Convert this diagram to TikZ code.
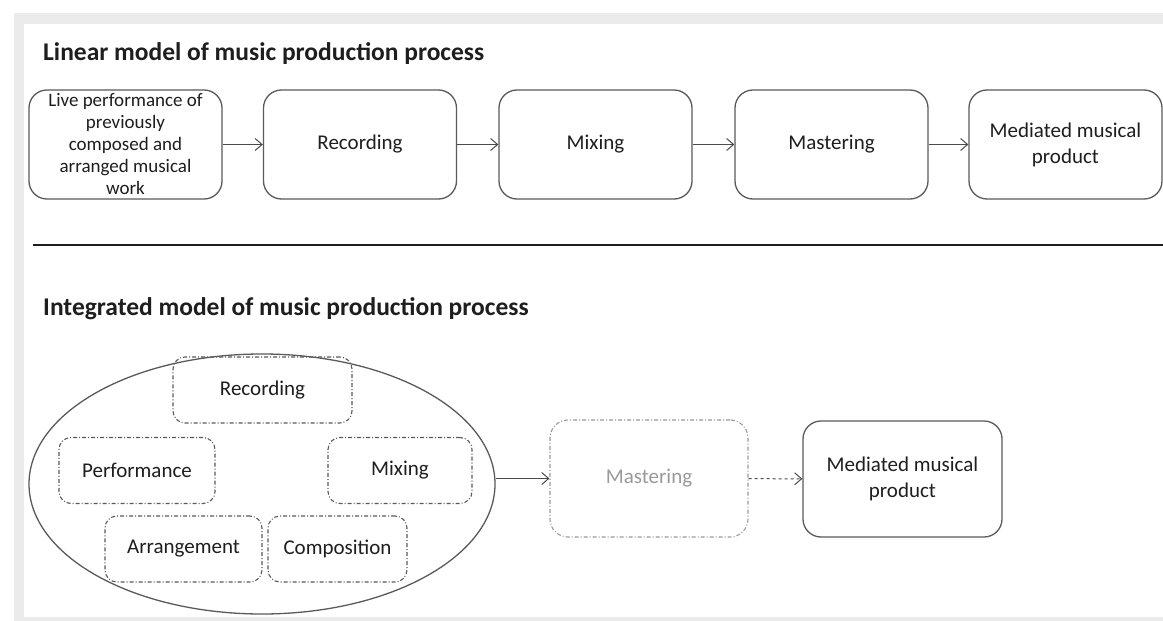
\documentclass[tikz,border=0pt]{standalone}
\usepackage{fontspec}
\setmainfont{Carlito}
\usetikzlibrary{shapes.geometric,arrows.meta}
\definecolor{frame}{HTML}{EBEBEB}
\definecolor{edge}{HTML}{5A5A5A}
\definecolor{ink}{HTML}{1E1E1E}
\definecolor{faded}{HTML}{9A9A9A}
\tikzset{
  stage/.style={draw=edge,line width=1.3pt,rounded corners=18pt,minimum width=193pt,
    minimum height=109pt,text=ink,align=center,inner sep=0pt,
    font=\fontsize{21}{26}\selectfont},
  part/.style={draw=edge,line width=1.1pt,rounded corners=12pt,
    dash pattern=on 4pt off 2pt on 1pt off 2pt,minimum height=66pt,text=ink,
    font=\fontsize{21}{26}\selectfont},
  flow/.style={draw=ink!80,line width=1pt,-{Straight Barb[length=7pt,width=12pt]}},
  heading/.style={anchor=base west,text=ink,inner sep=0pt,
    font=\fontsize{25.5}{30}\selectfont\bfseries}
}
\begin{document}
\begin{tikzpicture}[x=1pt,y=-1pt]
  \useasboundingbox (0,0) rectangle (1163,621);
  \fill[frame] (14,13) rectangle (1163,621);
  \fill[white] (24,24) rectangle (1163,617);

  % linear model
  \node [heading] (title1) at (43,60) {Linear model of music production process};
  \node [stage,font=\fontsize{19}{22}\selectfont] (live) at (125.5,144.5)
    {Live performance of\\previously\\composed and\\arranged musical\\work};
  \node [stage] (rec) at (360,144.5) {Recording};
  \node [stage] (mix) at (595.5,144.5) {Mixing};
  \node [stage] (mast) at (831.5,144.5) {Mastering};
  \node [stage] (prod) at (1065.5,144.5) {Mediated musical\\product};

  \draw [flow] (live) -- (rec);
  \draw [flow] (rec) -- (mix);
  \draw [flow] (mix) -- (mast);
  \draw [flow] (mast) -- (prod);

  \draw [ink,line width=2pt] (33,245) -- (1163,245);

  % integrated model
  \node [heading] (title2) at (43,315) {Integrated model of music production process};
  \node [ellipse,draw=edge,line width=1.3pt,minimum width=466pt,minimum height=260pt,
    inner sep=0pt] (studio) at (262,484) {};
  \node [part,minimum width=179pt] (irec) at (262.5,390) {Recording};
  \node [part,minimum width=156pt] (iperf) at (137,470.5) {Performance};
  \node [part,minimum width=144pt] (imix) at (400,470.5) {Mixing};
  \node [part,minimum width=157pt] (iarr) at (183.5,549) {Arrangement};
  \node [part,minimum width=139pt] (icomp) at (337.5,549) {Composition};

  \node [stage,dash pattern=on 4pt off 2pt on 1pt off 2pt,draw=faded,text=faded,
    line width=1.1pt,minimum width=198pt,minimum height=117pt] (imast) at (649,478.5) {Mastering};
  \node [stage,minimum width=199pt,minimum height=116pt] (iprod) at (902.5,479)
    {Mediated musical\\product};

  \draw [flow] (imast.west -| studio.east) -- (imast.west);
  \draw [flow,dashed] (imast) -- (iprod);
\end{tikzpicture}
\end{document}
